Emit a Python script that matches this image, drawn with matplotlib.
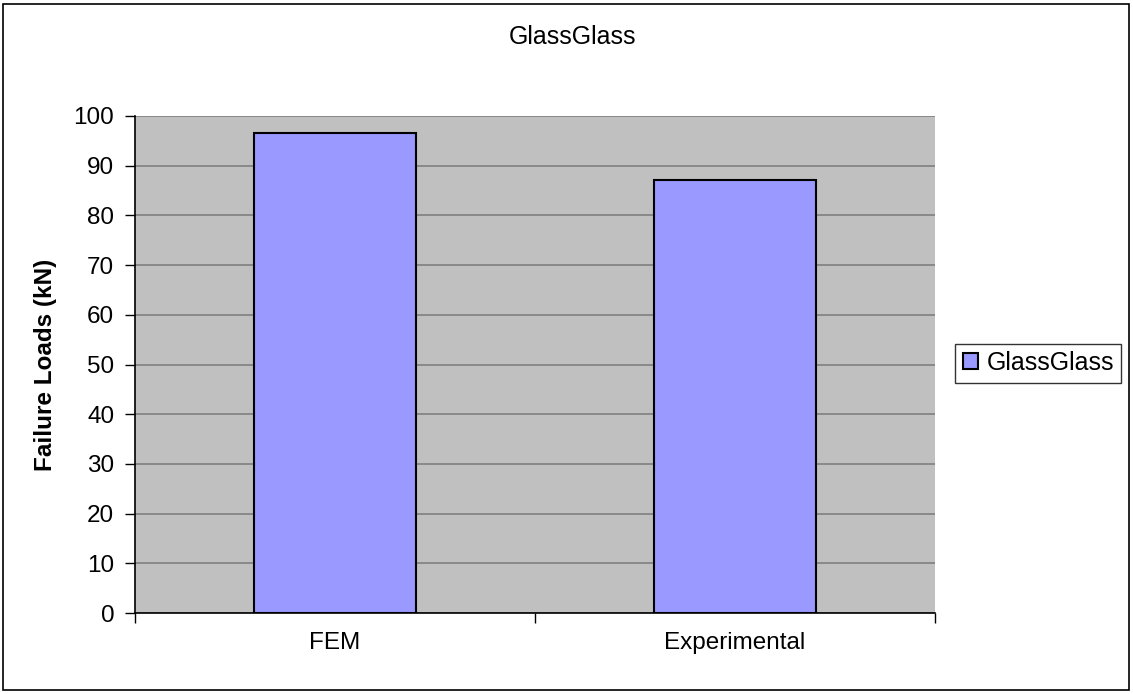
import matplotlib
matplotlib.use("Agg")
import matplotlib.pyplot as plt
from matplotlib.patches import Rectangle

categories = ["FEM", "Experimental"]
values = [96.5, 87.2]
series_name = "GlassGlass"
title = "GlassGlass"
ylabel = "Failure Loads (kN)"
yticks = [0, 10, 20, 30, 40, 50, 60, 70, 80, 90, 100]

plt.rcParams['font.family'] = ['Liberation Sans', 'DejaVu Sans']

fig = plt.figure(figsize=(11.33, 6.94), dpi=100)
fig.patch.set_facecolor('white')
ax = fig.add_axes([135/1133, 1-613/694, 800/1133, 497/694])
ax.set_facecolor('#C0C0C0')

x = list(range(len(categories)))
bars = ax.bar(x, values, width=0.405, color='#9999FF', edgecolor='black',
              linewidth=1.5, label=series_name, zorder=3)

ax.set_xlim(-0.5, len(categories) - 0.5)
ax.set_ylim(0, 100)
ax.set_yticks(yticks)
ax.set_yticklabels([str(t) for t in yticks], fontsize=17.5)
ax.yaxis.grid(True, color='#808080', linewidth=1.2, zorder=1)
ax.set_axisbelow(True)

# x ticks at category boundaries, labels centered
ax.set_xticks([i - 0.5 for i in range(len(categories) + 1)])
ax.set_xticklabels([''] * (len(categories) + 1))
ax.set_xticks(x, minor=True)
ax.set_xticklabels(categories, minor=True, fontsize=17.5)
ax.tick_params(axis='x', which='minor', length=0, pad=14)
ax.tick_params(axis='x', which='major', length=7, width=1, color='black')
ax.tick_params(axis='y', length=7, width=1, color='black', pad=8)

for s in ['top', 'right']:
    ax.spines[s].set_visible(False)
for s in ['left', 'bottom']:
    ax.spines[s].set_color('black')
    ax.spines[s].set_linewidth(1.2)

ax.set_ylabel(ylabel, fontsize=17.5, fontweight='bold', labelpad=12)
fig.text(572/1133, 1 - 37/694, title, ha='center', va='center', fontsize=18)

leg = fig.legend(handles=[bars], labels=[series_name], loc='center left',
                 bbox_to_anchor=(955/1133, 1 - 363/694), fontsize=18,
                 frameon=True, fancybox=False, edgecolor='black',
                 handlelength=0.6, handleheight=0.6, handletextpad=0.35,
                 borderpad=0.3, borderaxespad=0)
leg.get_frame().set_linewidth(1.0)

fig.add_artist(Rectangle((3/1133, 4/694), 1126/1133, 686/694,
                         transform=fig.transFigure, fill=False,
                         edgecolor='black', linewidth=1.2))

fig.savefig('out.png', dpi=100)
